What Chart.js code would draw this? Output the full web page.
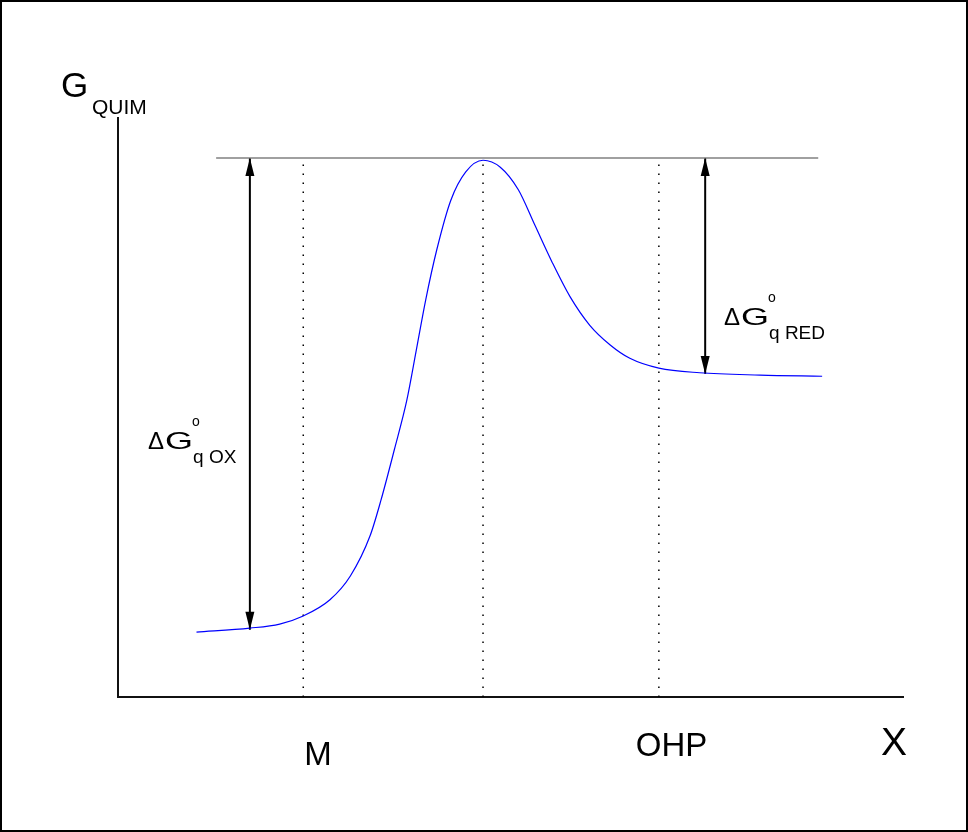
<!DOCTYPE html>
<html>
<head>
<meta charset="utf-8">
<script src="https://cdn.jsdelivr.net/npm/chart.js@4.4.1/dist/chart.umd.min.js"></script>
<style>
  html, body { margin: 0; padding: 0; background: #fff; }
  #wrap { width: 968px; height: 832px; }
</style>
</head>
<body>
<div id="wrap"><canvas id="gChart" width="968" height="832"></canvas></div>
<script>
// reaction coordinate (x) and chemical free energy (y) of the blue curve
const curveX = [0, 0.68, 1.06, 1.36, 1.70, 1.96, 2.21, 2.35, 2.52, 2.68, 2.80, 2.92, 3.06, 3.24, 3.43, 3.65,
                3.87, 4.10, 4.31, 4.53, 4.76, 5.01, 5.27, 5.52, 5.89, 6.41, 7.18, 7.97];
const curveY = [11.2, 11.9, 12.6, 14.0, 16.8, 20.9, 27.8, 34.0, 42.7, 51.3, 59.9, 68.6, 77.2, 85.8, 90.7, 92.7,
                91.5, 87.6, 81.5, 75.1, 69.1, 64.2, 60.8, 58.5, 56.8, 56.0, 55.6, 55.4];

// horizontal reference level at the top of the barrier
const topLineX = [0.25, 7.92];
const topLevel = 93.1;

// dotted vertical markers (M, transition state, OHP)
const markerNames = ["M", "", "OHP"];
const markerX = [1.36, 3.65, 5.89];

// double arrows: ΔG°q OX and ΔG°q RED
const arrowX = [0.68, 6.48];
const arrowLow = [11.6, 55.8];

const datasets = [];
datasets.push({
  data: curveX.map((x, i) => ({ x: x, y: curveY[i] })),
  borderColor: "#0000ff",
  borderWidth: 1.2,
  cubicInterpolationMode: "monotone",
});
datasets.push({
  data: topLineX.map(x => ({ x: x, y: topLevel })),
  borderColor: "#808080",
  borderWidth: 1.5,
});
markerX.forEach(x => {
  datasets.push({
    data: [{ x: x, y: 0 }, { x: x, y: topLevel }],
    borderColor: "#000",
    borderWidth: 1.5,
    borderDash: [1.5, 7.5],
  });
});
arrowX.forEach((x, i) => {
  datasets.push({
    arrow: true,
    data: [{ x: x, y: arrowLow[i] }, { x: x, y: topLevel }],
    borderColor: "#000",
    borderWidth: 2,
  });
});

const decor = {
  id: "decor",
  afterDatasetsDraw(chart) {
    const ctx = chart.ctx;
    // arrow heads at both ends
    chart.data.datasets.forEach((ds, i) => {
      if (!ds.arrow) return;
      const pts = chart.getDatasetMeta(i).data;
      const head = (p, dir) => {
        ctx.beginPath();
        ctx.moveTo(p.x, p.y);
        ctx.lineTo(p.x - 4.5, p.y + dir * 18);
        ctx.lineTo(p.x + 4.5, p.y + dir * 18);
        ctx.closePath();
        ctx.fill();
      };
      ctx.save();
      ctx.fillStyle = "#000";
      head(pts[0], -1);
      head(pts[1], 1);
      ctx.restore();
    });
  },
  afterDraw(chart) {
    const ctx = chart.ctx;
    const xs = chart.scales.x;
    ctx.save();
    ctx.fillStyle = "#000";
    ctx.textBaseline = "alphabetic";
    ctx.textAlign = "left";
    const f = s => s + "px 'Liberation Sans', Arial, sans-serif";

    // outer frame
    ctx.strokeStyle = "#000";
    ctx.lineWidth = 2;
    ctx.strokeRect(1, 1, 966, 830);

    // axis titles
    ctx.font = f(35);
    ctx.fillText("G", 61, 97);
    ctx.font = f(21);
    ctx.fillText("QUIM", 92, 114);
    ctx.font = f(39);
    ctx.fillText("X", 881, 755);

    // marker labels
    ctx.font = f(33);
    ctx.fillText(markerNames[0], xs.getPixelForValue(markerX[0]) + 1, 765);
    ctx.fillText(markerNames[2], xs.getPixelForValue(markerX[2]) - 23, 756);

    // ΔG labels
    const dG = (x, y, sub) => {
      ctx.font = f(24);
      ctx.fillText("\u0394", x, y);
      const w = ctx.measureText("\u0394").width;
      ctx.save();
      ctx.translate(x + w + 1, y);
      ctx.scale(1.5, 1);
      ctx.fillText("G", 0, 0);
      ctx.restore();
      const gx = x + w + 1 + ctx.measureText("G").width * 1.5;
      ctx.font = f(14);
      ctx.fillText("o", gx - 1, y - 23);
      ctx.font = f(19);
      ctx.fillText(sub, gx, y + 14);
    };
    dG(148, 449, "q OX");
    dG(724, 325, "q RED");
    ctx.restore();
  }
};

const ctx = document.getElementById("gChart").getContext("2d");
const gChart = new Chart(ctx, {
  type: "scatter",
  data: { datasets: datasets },
  options: {
    responsive: false,
    animation: false,
    showLine: true,
    elements: { point: { radius: 0, hoverRadius: 0 } },
    layout: { padding: { left: 118, top: 118, right: 65, bottom: 135 } },
    plugins: { legend: { display: false }, tooltip: { enabled: false } },
    scales: {
      x: {
        type: "linear", min: -1, max: 9,
        ticks: { display: false, stepSize: 1 },
        grid: { drawOnChartArea: false, drawTicks: false },
        border: { color: "#111", width: 2 },
      },
      y: {
        type: "linear", min: 0, max: 100,
        ticks: { display: false },
        grid: { drawOnChartArea: false, drawTicks: false },
        border: { color: "#111", width: 2 },
      },
    },
  },
  plugins: [decor],
});
</script>
</body>
</html>
